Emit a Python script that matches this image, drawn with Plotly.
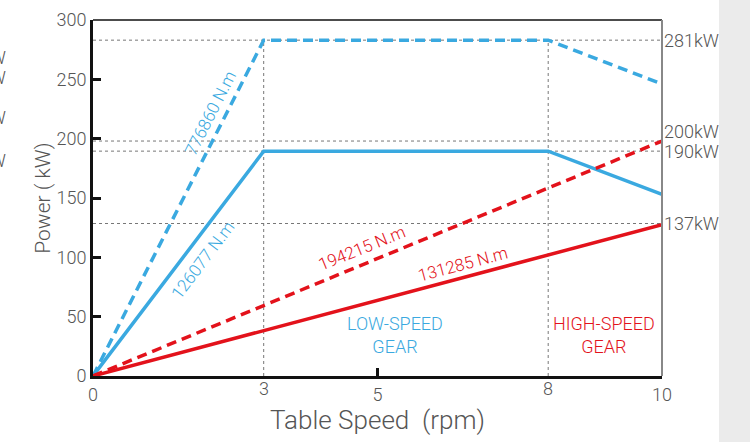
import plotly.graph_objects as go

# ---- data ----
speed_low = [0, 3, 8, 10]
power_low_max = [0, 283, 283, 246]      # 776860 N.m (dashed blue)
power_low_rated = [0, 189.5, 189.5, 153]  # 126077 N.m (solid blue)
speed_high = [0, 10]
power_high_max = [0, 198]               # 194215 N.m (dashed red)
power_high_rated = [0, 127.5]           # 131285 N.m (solid red)

ref_levels = [283, 198, 189.5, 128.5]
ref_labels = ["281kW", "200kW", "190kW", "137kW"]
shift_speeds = [3, 8]
y_ticks = [0, 50, 100, 150, 200, 250, 300]

BLUE = "#3aa9e0"
RED = "#e3121b"
GRAY = "#555555"
FONT = "Roboto"
W = 300

fig = go.Figure()
fig.add_trace(go.Scatter(x=speed_low, y=power_low_max, mode="lines",
                         line=dict(color=BLUE, width=3.5, dash="10px,6px")))
fig.add_trace(go.Scatter(x=speed_low, y=power_low_rated, mode="lines",
                         line=dict(color=BLUE, width=3.5)))
fig.add_trace(go.Scatter(x=speed_high, y=power_high_max, mode="lines",
                         line=dict(color=RED, width=3.5, dash="10px,6px")))
fig.add_trace(go.Scatter(x=speed_high, y=power_high_rated, mode="lines",
                         line=dict(color=RED, width=3.5)))

shapes = []
for lv in ref_levels:
    shapes.append(dict(type="line", xref="x", yref="y", x0=0, x1=10, y0=lv, y1=lv,
                       line=dict(color="#777777", width=1, dash="dot"), layer="below"))
for sp in shift_speeds:
    shapes.append(dict(type="line", xref="x", yref="y", x0=sp, x1=sp, y0=0, y1=ref_levels[0],
                       line=dict(color="#777777", width=1, dash="dot"), layer="below"))
# frame top/right
shapes.append(dict(type="line", xref="paper", yref="paper", x0=0, x1=1, y0=1, y1=1,
                   line=dict(color="#111111", width=1.5)))
shapes.append(dict(type="line", xref="paper", yref="paper", x0=1, x1=1, y0=0, y1=1,
                   line=dict(color="#888888", width=2)))
# gray side panel
shapes.append(dict(type="rect", xref="paper", yref="paper", x0=1.1002, x1=1.16, y0=-0.2, y1=1.1,
                   fillcolor="#ebebeb", line=dict(width=0), layer="below"))

ann = []
# right labels
label_shift = [0, 10, 0, 0]
for lv, lb, sh in zip(ref_levels, ref_labels, label_shift):
    ann.append(dict(x=1, xref="paper", y=lv, yref="y", text=lb, showarrow=False,
                    xanchor="left", yanchor="middle", xshift=0, yshift=sh,
                    font=dict(family=FONT, size=18, color=GRAY, weight=W)))
# cut-off labels at left edge (from the neighbouring chart)
for py, lb in zip([57, 77, 117, 160], ref_labels):
    ann.append(dict(x=(8 - 93) / 569, xref="paper", y=1 - (py - 19.5) / 356.5, yref="paper",
                    text=lb, showarrow=False, xanchor="right", yanchor="middle",
                    font=dict(family=FONT, size=18, color=GRAY, weight=W)))
# shift speed labels (slightly raised)
for sp in shift_speeds:
    ann.append(dict(x=sp, xref="x", y=0, yref="y", text=str(sp), showarrow=False,
                    yanchor="top", yshift=0, font=dict(family=FONT, size=18, color=GRAY, weight=W)))
# torque labels
ann.append(dict(x=2.06, y=222, text="776860 N.m", textangle=-63, showarrow=False,
                font=dict(family=FONT, size=17, color=BLUE, weight=W)))
ann.append(dict(x=1.93, y=97.6, text="126077 N.m", textangle=-53, showarrow=False,
                font=dict(family=FONT, size=17, color=BLUE, weight=W)))
ann.append(dict(x=4.73, y=107.7, text="194215 N.m", textangle=-22, showarrow=False,
                font=dict(family=FONT, size=17, color=RED, weight=W)))
ann.append(dict(x=6.5, y=94.3, text="131285 N.m", textangle=-15, showarrow=False,
                font=dict(family=FONT, size=17, color=RED, weight=W)))
ann.append(dict(x=5.31, y=34.5, text="LOW-SPEED<br>GEAR", showarrow=False,
                font=dict(family=FONT, size=18, color=BLUE, weight=W)))
ann.append(dict(x=8.98, y=34.5, text="HIGH-SPEED<br>GEAR", showarrow=False,
                font=dict(family=FONT, size=18, color=RED, weight=W)))

fig.update_layout(
    width=750, height=442,
    margin=dict(l=93, r=88, t=20, b=66, autoexpand=False),
    paper_bgcolor="white", plot_bgcolor="white",
    showlegend=False,
    shapes=shapes, annotations=ann,
    font=dict(family=FONT, color=GRAY),
)
fig.update_xaxes(range=[0, 10], tickvals=[0, 5, 10], ticktext=["0", "5", "10"],
                 ticks="inside", ticklen=8, tickwidth=2.5, tickcolor="#111111",
                 showline=True, linecolor="#111111", linewidth=3,
                 showgrid=False, zeroline=False, automargin=False,
                 tickfont=dict(family=FONT, size=18, color=GRAY, weight=W),
                 title=dict(text="Table Speed  (rpm)", standoff=5,
                            font=dict(family=FONT, size=26, color=GRAY, weight=W)))
fig.update_yaxes(range=[0, 300], tickvals=y_ticks,
                 ticks="inside", ticklen=8, tickwidth=2.5, tickcolor="#111111",
                 showline=True, linecolor="#111111", linewidth=3,
                 showgrid=False, zeroline=False, automargin=False,
                 tickfont=dict(family=FONT, size=18, color=GRAY, weight=W),
                 title=dict(text="Power ( kW)", standoff=1,
                            font=dict(family=FONT, size=21, color=GRAY, weight=W)))

fig.write_html("out.html", config={"displayModeBar": False},
               post_script="document.body.style.margin='0';")
